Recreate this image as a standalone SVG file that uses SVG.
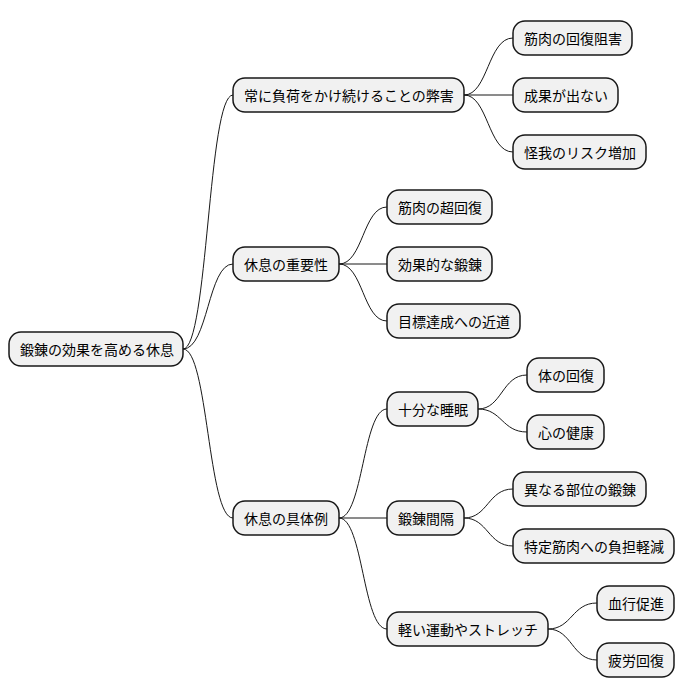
<svg xmlns="http://www.w3.org/2000/svg" width="684" height="696" viewBox="0 0 684 696">
<style>
.n rect{fill:#f1f1f1;stroke:#181818;stroke-width:1.5}
.n text{font-family:"Noto Sans CJK JP","Noto Sans CJK SC",sans-serif;font-size:14px;fill:#000;dominant-baseline:central}
.c path{fill:none;stroke:#181818;stroke-width:1}
</style>
<rect width="684" height="696" fill="#fff"/>
<g class="c">
<path d="M183,349 C208,349 208,95 233,95"/>
<path d="M183,349 C208,349 208,264 233,264"/>
<path d="M183,349 C208,349 208,518 233,518"/>
<path d="M464,95 C488,95 488,38 513,38"/>
<path d="M464,95 L513,95"/>
<path d="M464,95 C488,95 488,152 513,152"/>
<path d="M339,264 C363,264 363,207 387,207"/>
<path d="M339,264 L387,264"/>
<path d="M339,264 C363,264 363,321 387,321"/>
<path d="M339,518 C363,518 363,409 387,409"/>
<path d="M339,518 L387,518"/>
<path d="M339,518 C363,518 363,629 387,629"/>
<path d="M478,409 C502,409 502,375 527,375"/>
<path d="M478,409 C502,409 502,432 527,432"/>
<path d="M464,518 C488,518 488,489 513,489"/>
<path d="M464,518 C488,518 488,546 513,546"/>
<path d="M548,629 C572,629 572,603 597,603"/>
<path d="M548,629 C572,629 572,660 597,660"/>
</g>
<g class="n" id="root"><rect x="9" y="332" width="174" height="34" rx="12"/><text x="20" y="349">鍛錬の効果を高める休息</text></g>
<g class="n" id="a"><rect x="233" y="78" width="231" height="34" rx="12"/><text x="244" y="95">常に負荷をかけ続けることの弊害</text></g>
<g class="n" id="a1"><rect x="513" y="21" width="119" height="34" rx="12"/><text x="524" y="38">筋肉の回復阻害</text></g>
<g class="n" id="a2"><rect x="513" y="78" width="105" height="34" rx="12"/><text x="524" y="95">成果が出ない</text></g>
<g class="n" id="a3"><rect x="513" y="135" width="133" height="34" rx="12"/><text x="524" y="152">怪我のリスク増加</text></g>
<g class="n" id="b"><rect x="233" y="247" width="106" height="34" rx="12"/><text x="244" y="264">休息の重要性</text></g>
<g class="n" id="b1"><rect x="387" y="190" width="105" height="34" rx="12"/><text x="398" y="207">筋肉の超回復</text></g>
<g class="n" id="b2"><rect x="387" y="247" width="105" height="34" rx="12"/><text x="398" y="264">効果的な鍛錬</text></g>
<g class="n" id="b3"><rect x="387" y="304" width="133" height="34" rx="12"/><text x="398" y="321">目標達成への近道</text></g>
<g class="n" id="c"><rect x="233" y="501" width="106" height="34" rx="12"/><text x="244" y="518">休息の具体例</text></g>
<g class="n" id="c1"><rect x="387" y="392" width="91" height="34" rx="12"/><text x="398" y="409">十分な睡眠</text></g>
<g class="n" id="c11"><rect x="527" y="358" width="77" height="34" rx="12"/><text x="538" y="375">体の回復</text></g>
<g class="n" id="c12"><rect x="527" y="415" width="77" height="34" rx="12"/><text x="538" y="432">心の健康</text></g>
<g class="n" id="c2"><rect x="387" y="501" width="77" height="34" rx="12"/><text x="398" y="518">鍛錬間隔</text></g>
<g class="n" id="c21"><rect x="513" y="472" width="133" height="34" rx="12"/><text x="524" y="489">異なる部位の鍛錬</text></g>
<g class="n" id="c22"><rect x="513" y="529" width="161" height="34" rx="12"/><text x="524" y="546">特定筋肉への負担軽減</text></g>
<g class="n" id="c3"><rect x="387" y="612" width="161" height="34" rx="12"/><text x="398" y="629">軽い運動やストレッチ</text></g>
<g class="n" id="c31"><rect x="597" y="586" width="77" height="34" rx="12"/><text x="608" y="603">血行促進</text></g>
<g class="n" id="c32"><rect x="597" y="643" width="77" height="34" rx="12"/><text x="608" y="660">疲労回復</text></g>
</svg>
